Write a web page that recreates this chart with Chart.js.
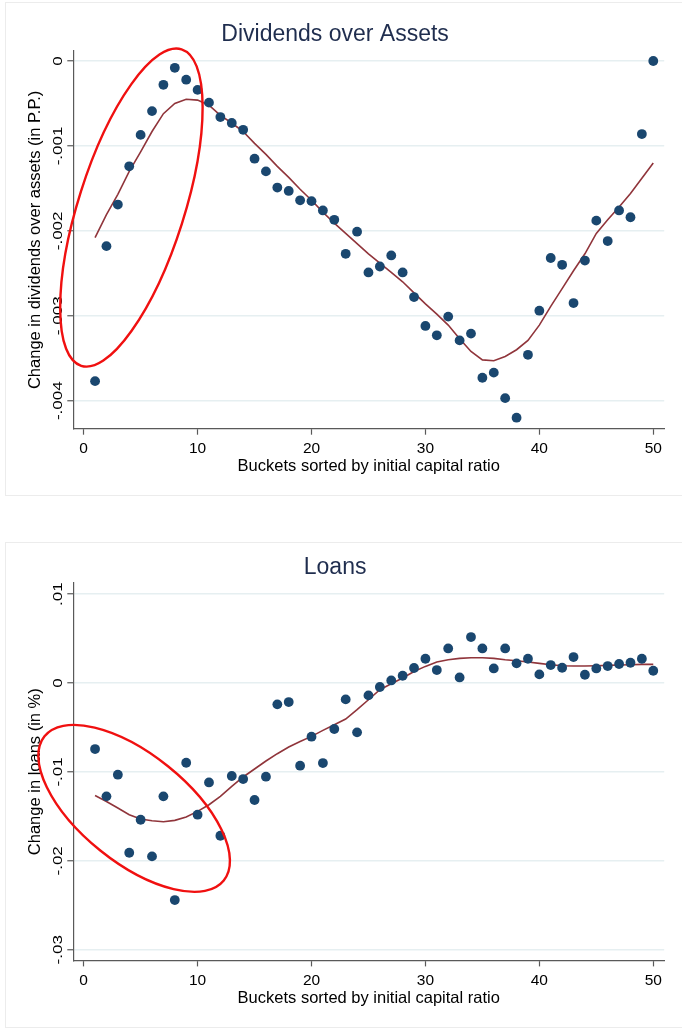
<!DOCTYPE html>
<html>
<head>
<meta charset="utf-8">
<script src="https://cdn.jsdelivr.net/npm/chart.js@4.4.1/dist/chart.umd.min.js"></script>
<style>
  body { margin: 0; background: #fff; width: 682px; height: 1030px; position: relative; overflow: hidden; }
  .panel { position: absolute; left: 6px; width: 676px; outline: 1px solid #ececec; }
  #p1 { top: 3px; height: 492px; }
  #p2 { top: 543px; height: 484px; }
  canvas { display: block; }
</style>
</head>
<body>
<div class="panel" id="p1"><canvas id="divChart" width="676" height="492"></canvas></div>
<div class="panel" id="p2"><canvas id="loanChart" width="676" height="484"></canvas></div>
<script>
// buckets sorted by initial capital ratio
const buckets = [1, 2, 3, 4, 5, 6, 7, 8, 9, 10, 11, 12, 13, 14, 15, 16, 17, 18, 19, 20,
  21, 22, 23, 24, 25, 26, 27, 28, 29, 30, 31, 32, 33, 34, 35, 36, 37, 38, 39, 40,
  41, 42, 43, 44, 45, 46, 47, 48, 49, 50];
const xTicks = [0, 10, 20, 30, 40, 50];

// change in dividends over assets (p.p.) per bucket, plus the smoothed fit
const divPoints = [-0.00377, -0.00218, -0.00169, -0.00124, -0.00087, -0.00059, -0.00028, -0.00008, -0.00022, -0.00034,
  -0.00049, -0.00066, -0.00073, -0.00081, -0.00115, -0.00130, -0.00149, -0.00153, -0.00164, -0.00165,
  -0.00176, -0.00187, -0.00227, -0.00201, -0.00249, -0.00242, -0.00229, -0.00249, -0.00278, -0.00312,
  -0.00323, -0.00301, -0.00329, -0.00321, -0.00373, -0.00367, -0.00397, -0.00420, -0.00346, -0.00294,
  -0.00232, -0.00240, -0.00285, -0.00235, -0.00188, -0.00212, -0.00176, -0.00184, -0.00086, 0.00000];
const divFit = [-0.00208, -0.00181, -0.00157, -0.00130, -0.00107, -0.00083, -0.00062, -0.00050, -0.00045, -0.00046,
  -0.00052, -0.00064, -0.00073, -0.00083, -0.00097, -0.00110, -0.00124, -0.00137, -0.00151, -0.00164,
  -0.00178, -0.00191, -0.00203, -0.00215, -0.00227, -0.00238, -0.00249, -0.00260, -0.00273, -0.00286,
  -0.00298, -0.00311, -0.00327, -0.00342, -0.00352, -0.00353, -0.00348, -0.00340, -0.00329, -0.00311,
  -0.00289, -0.00268, -0.00247, -0.00227, -0.00203, -0.00187, -0.00172, -0.00156, -0.00138, -0.00120];
const divTicks = [0, -0.001, -0.002, -0.003, -0.004];

// change in loans (%) per bucket, plus the smoothed fit
const loanPoints = [-0.00743, -0.01275, -0.01031, -0.01909, -0.01538, -0.01950, -0.01275, -0.02441, -0.00897, -0.01481,
  -0.01118, -0.01718, -0.01046, -0.01080, -0.01316, -0.01054, -0.00240, -0.00214, -0.00930, -0.00604,
  -0.00900, -0.00517, -0.00184, -0.00555, -0.00139, -0.00045, 0.00029, 0.00082, 0.00169, 0.00273,
  0.00146, 0.00389, 0.00063, 0.00517, 0.00389, 0.00164, 0.00389, 0.00221, 0.00273, 0.00097,
  0.00202, 0.00172, 0.00292, 0.00093, 0.00164, 0.00191, 0.00214, 0.00228, 0.00273, 0.00138];
const loanFit = [-0.01266, -0.01332, -0.01406, -0.01481, -0.01530, -0.01549, -0.01560, -0.01545, -0.01507, -0.01444,
  -0.01369, -0.01275, -0.01163, -0.01057, -0.00967, -0.00877, -0.00795, -0.00720, -0.00657, -0.00600,
  -0.00533, -0.00469, -0.00405, -0.00300, -0.00188, -0.00075, -0.00008, 0.00056, 0.00130, 0.00187,
  0.00236, 0.00262, 0.00277, 0.00285, 0.00285, 0.00277, 0.00262, 0.00251, 0.00236, 0.00221,
  0.00206, 0.00195, 0.00191, 0.00191, 0.00195, 0.00199, 0.00202, 0.00206, 0.00210, 0.00210];
const loanTicks = [0.01, 0, -0.01, -0.02, -0.03];

// highlighted low-capital region: centre in data units, radii in px, tilt in degrees
const divRing = { x: 4.19, y: -0.001726, rx: 166, ry: 53, tilt: -72.4 };
const loanRing = { x: 4.43, y: -0.0141, rx: 115, ry: 54, tilt: 38.8 };

const FONT = "'Liberation Sans', Arial, Helvetica, sans-serif";
Chart.defaults.font.family = FONT;
Chart.defaults.color = "#000";

const navy = "#1a476f";
const maroon = "#90353b";
const axisGray = "#595959";

// "-0.001" -> "-.001", the way the axis prints it
const fmt = v => (v === 0 ? "0" : String(v).replace("0.", "."));

function makeChart(id, cfg) {
  const ring = cfg.ring;
  const extras = {
    id: "extras_" + id,
    afterDraw(chart) {
      const { ctx } = chart;
      const xs = chart.scales.x, ys = chart.scales.y;
      // vertical tick labels on the y axis (a little narrow, like the axis font)
      ctx.save();
      ctx.fillStyle = "#000";
      ctx.font = "17px " + FONT;
      ctx.textAlign = "center";
      ctx.textBaseline = "middle";
      ys.ticks.forEach(t => {
        ctx.save();
        ctx.translate(cfg.labelX, ys.getPixelForValue(t.value));
        ctx.rotate(-Math.PI / 2);
        ctx.scale(1, 0.8);
        ctx.fillText(fmt(t.value), 0, 0);
        ctx.restore();
      });
      ctx.restore();
      // red ring
      ctx.save();
      ctx.strokeStyle = "#f01010";
      ctx.lineWidth = 2.4;
      ctx.beginPath();
      ctx.ellipse(xs.getPixelForValue(ring.x), ys.getPixelForValue(ring.y),
        ring.rx, ring.ry, ring.tilt * Math.PI / 180, 0, Math.PI * 2);
      ctx.stroke();
      ctx.restore();
    }
  };

  return new Chart(document.getElementById(id), {
    type: "scatter",
    data: {
      datasets: [
        {
          type: "line",
          data: buckets.map((b, i) => ({ x: b, y: cfg.fit[i] })),
          borderColor: maroon,
          borderWidth: 1.6,
          pointRadius: 0,
          tension: 0,
          order: 2,
        },
        {
          data: buckets.map((b, i) => ({ x: b, y: cfg.points[i] })),
          backgroundColor: navy,
          borderWidth: 0,
          pointRadius: 4.9,
          order: 1,
        },
      ],
    },
    options: {
      responsive: false,
      animation: false,
      layout: { padding: { left: 0, right: 17.8, top: 0, bottom: 0 } },
      plugins: {
        legend: { display: false },
        tooltip: { enabled: false },
        title: {
          display: true,
          text: cfg.title,
          color: "#1f2d4e",
          font: { size: 23, weight: "normal" },
          padding: cfg.titlePad,
        },
      },
      scales: {
        x: {
          type: "linear",
          min: -0.91,
          max: 50.96,
          afterBuildTicks: s => { s.ticks = xTicks.map(v => ({ value: v })); },
          afterFit: s => { s.height = cfg.xHeight; },
          ticks: { font: { size: 15.5 }, padding: cfg.xPad, maxRotation: 0, autoSkip: false, callback: v => String(v) },
          grid: { drawOnChartArea: false, tickLength: 6, tickColor: axisGray, tickWidth: 1.2 },
          border: { color: axisGray, width: 1.2 },
          title: {
            display: true,
            text: "Buckets sorted by initial capital ratio",
            font: { size: 16.5 },
            padding: { top: 0, bottom: cfg.xTitlePad },
          },
        },
        y: {
          type: "linear",
          min: cfg.yMin,
          max: cfg.yMax,
          afterBuildTicks: s => { s.ticks = cfg.ticks.map(v => ({ value: v })); },
          afterFit: s => { s.width = 67.3; },
          ticks: { display: false },
          grid: { color: "#e6eff1", lineWidth: 1.5, tickLength: 6, tickColor: axisGray, tickWidth: 1.2 },
          border: { color: axisGray, width: 1.2 },
          title: {
            display: true,
            text: cfg.yTitle,
            font: { size: 16.5 },
            padding: { top: 20, bottom: 0 },
          },
        },
      },
    },
    plugins: [extras],
  });
}

makeChart("divChart", {
  title: "Dividends over Assets",
  yTitle: "Change in dividends over assets (in P.P.)",
  points: divPoints,
  fit: divFit,
  ticks: divTicks,
  yMin: -0.00433,
  yMax: 0.000118,
  titlePad: { top: 18.2, bottom: 2.2 },
  xHeight: 66.3,
  xPad: 5,
  xTitlePad: 18.4,
  labelX: 51.8,
  ring: divRing,
});

makeChart("loanChart", {
  title: "Loans",
  yTitle: "Change in loans (in %)",
  points: loanPoints,
  fit: loanFit,
  ticks: loanTicks,
  yMin: -0.0312,
  yMax: 0.01125,
  titlePad: { top: 11.2, bottom: 1.2 },
  xHeight: 66.6,
  xPad: 5.5,
  xTitlePad: 19.1,
  labelX: 51.8,
  ring: loanRing,
});
</script>
</body>
</html>
